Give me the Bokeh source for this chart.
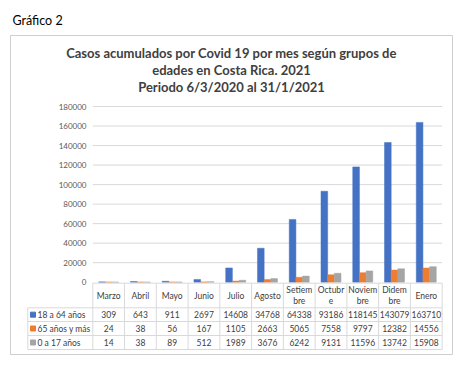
from bokeh.plotting import figure
from bokeh.models import Range1d, FixedTicker, BasicTickFormatter
from bokeh.core.properties import value
from bokeh.embed import file_html
from bokeh.resources import INLINE

# ---------------- data ----------------
months = ["Marzo", "Abril", "Mayo", "Junio", "Julio", "Agosto",
          "Setiembre", "Octubre", "Noviembre", "Diciembre", "Enero"]
month_labels = ["Marzo", "Abril", "Mayo", "Junio", "Julio", "Agosto",
                "Setiem\nbre", "Octubr\ne", "Noviem\nbre", "Didem\nbre", "Enero"]
series_names = ["18 a 64 años", "65 años y más", "0 a 17 años"]
adultos = [309, 643, 911, 2697, 14608, 34768, 64338, 93186, 118145, 143079, 163710]
mayores = [24, 38, 56, 167, 1105, 2663, 5065, 7558, 9797, 12382, 14556]
menores = [14, 38, 89, 512, 1989, 3676, 6242, 9131, 11596, 13742, 15908]
y_ticks = [0, 20000, 40000, 60000, 80000, 100000, 120000, 140000, 160000, 180000]
title_lines = ["Casos acumulados por Covid 19 por mes según grupos de",
               "edades en Costa Rica. 2021",
               "Periodo 6/3/2020 al 31/1/2021"]
chart_label = "Gráfico 2"

# ---------------- layout helpers (page pixels -> data units) ----------------
COL_PX = 31.76
X_EDGE_PX = 92.3       # left edge of first month column
Y0_PX = 281.7          # y of value 0
Y_SPAN_PX = 175.7      # pixels from 0 to 180000
Y_TOP_VAL = 180000

def ux(px):
    return -0.5 + (px - X_EDGE_PX) / COL_PX

def uy(py):
    return (Y0_PX - py) * Y_TOP_VAL / Y_SPAN_PX

FONT = "Lato"
TXT = "#404040"
GRID = "#d9d9d9"
colors = ["#4472C4", "#ED7D31", "#A5A5A5"]

n = len(months)
p = figure(width=458, height=362, output_backend="svg", toolbar_location=None,
           x_range=Range1d(ux(10), ux(452)), y_range=Range1d(uy(354), uy(35)),
           min_border_left=10, min_border_right=6, min_border_top=35, min_border_bottom=8)
p.outline_line_color = "#cfcfcf"
p.background_fill_color = "white"
p.border_fill_color = "white"
p.xgrid.visible = False
p.ygrid.visible = False
p.xaxis.visible = False

# title "Gráfico 2"
p.title.text = chart_label
p.title.align = "left"
p.title.offset = 2
p.title.standoff = 16
p.title.text_font = FONT
p.title.text_font_size = "12.5px"
p.title.text_font_style = "normal"
p.title.text_color = "black"

# y axis with labels placed inside the box
ya = p.yaxis[0]
ya.ticker = FixedTicker(ticks=y_ticks)
ya.formatter = BasicTickFormatter(use_scientific=False)
ya.axis_line_color = None
ya.major_tick_line_color = None
ya.minor_tick_line_color = None
ya.major_tick_out = 0
ya.major_tick_in = 0
ya.major_label_standoff = -76
ya.major_label_text_font = FONT
ya.major_label_text_font_size = "8px"
ya.major_label_text_color = "#595959"

# gridlines inside the plot area
gt = [t for t in y_ticks if t > 0]
p.segment(x0=[-0.5] * len(gt), x1=[n - 0.5] * len(gt), y0=gt, y1=gt,
          line_color=GRID, line_width=1)

# bars
bw = 0.21
offs = [-bw, 0, bw]
for vals, off, c in zip([adultos, mayores, menores], offs, colors):
    p.vbar(x=[i + off for i in range(n)], top=vals, width=bw,
           fill_color=c, line_color=c, line_width=0.5)

# title
cx = (ux(10) + ux(452)) / 2
p.text(x=[cx] * 3, y=[uy(52), uy(69), uy(86)], text=title_lines,
       text_align="center", text_baseline="middle",
       text_font=value(FONT), text_font_size="13px", text_font_style="bold",
       text_color=TXT)

# ---------------- data table ----------------
top_h = 282.7
rows_px = [307.3, 321.0, 335.0, 349.0]
leg_left = ux(27.3)
# horizontal lines
p.segment(x0=[-0.5], x1=[n - 0.5], y0=[uy(top_h)], y1=[uy(top_h)], line_color=GRID, line_width=1)
p.segment(x0=[leg_left] * 4, x1=[n - 0.5] * 4, y0=[uy(r) for r in rows_px],
          y1=[uy(r) for r in rows_px], line_color=GRID, line_width=1)
# vertical lines
vx = [i - 0.5 for i in range(n + 1)]
p.segment(x0=vx, x1=vx, y0=[uy(top_h)] * len(vx), y1=[uy(rows_px[-1])] * len(vx),
          line_color=GRID, line_width=1)
p.segment(x0=[leg_left], x1=[leg_left], y0=[uy(rows_px[0])], y1=[uy(rows_px[-1])],
          line_color=GRID, line_width=1)

# header
p.text(x=list(range(n)), y=[uy(295)] * n, text=month_labels,
       text_align="center", text_baseline="middle", text_line_height=1.15,
       text_font=value(FONT), text_font_size="8.5px", text_color=TXT)

# values
row_c = [(rows_px[k] + rows_px[k + 1]) / 2 for k in range(3)]
for vals, rc in zip([adultos, mayores, menores], row_c):
    p.text(x=list(range(n)), y=[uy(rc)] * n, text=[str(v) for v in vals],
           text_align="center", text_baseline="middle",
           text_font=value(FONT), text_font_size="8.5px", text_color=TXT)

# legend keys
p.scatter(x=[ux(32.5)] * 3, y=[uy(rc) for rc in row_c], marker="square", size=5,
          fill_color=colors, line_color=colors)
p.text(x=[ux(37)] * 3, y=[uy(rc) for rc in row_c], text=series_names,
       text_align="left", text_baseline="middle",
       text_font=value(FONT), text_font_size="8.5px", text_color=TXT)

open("out.html", "w").write(file_html(p, INLINE))
